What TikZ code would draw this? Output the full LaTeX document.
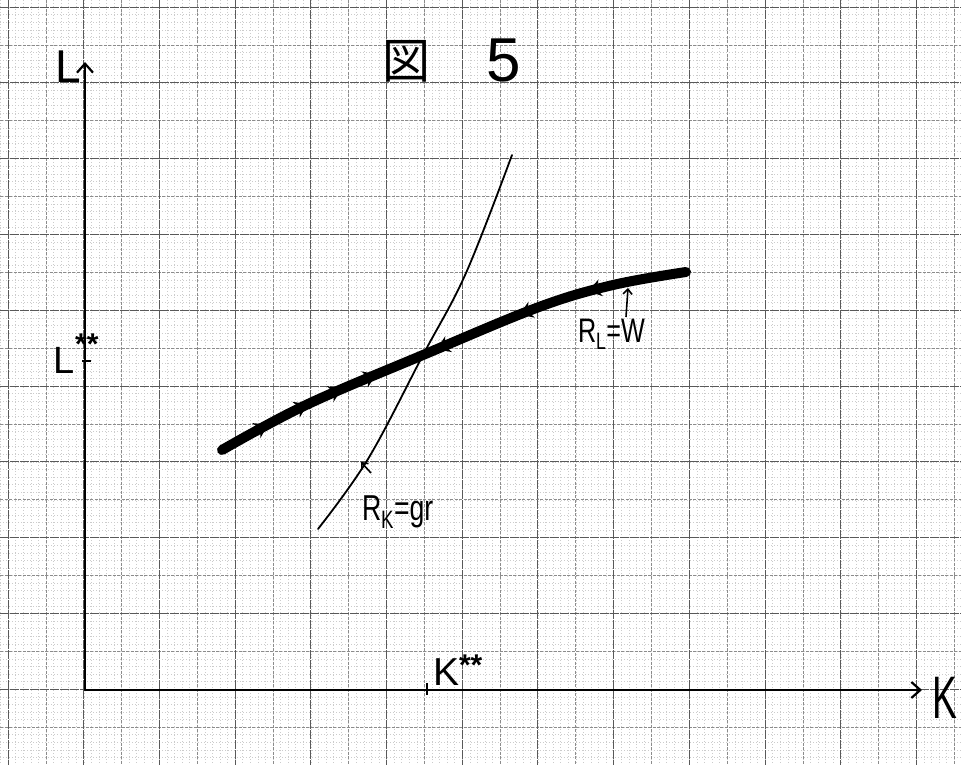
\documentclass[tikz,border=0pt]{standalone}
\usepackage{fontspec}
\setmainfont{Liberation Sans}
\newfontfamily\cjk{Noto Sans CJK JP}
\usetikzlibrary{arrows.meta,decorations.markings}
\tikzset{
  minorline/.style={black!20,line width=0.4pt,dash pattern=on 1pt off 2pt},
  halfline/.style={black!45,line width=0.6pt,dash pattern=on 3pt off 1.5pt},
  majorline/.style={black!65,line width=0.9pt,dash pattern=on 9pt off 1pt},
  axisline/.style={line width=2.6pt,line cap=round,-{Straight Barb[length=9pt,width=16pt,line width=2.2pt]}},
  tickline/.style={line width=1.6pt},
  lbl/.style={inner sep=0pt,outer sep=0pt,text=black},
  stars/.style={inner sep=0pt,outer sep=0pt,text=black,font=\bfseries\fontsize{30}{32}\selectfont},
  smallarrow/.style={line width=1.6pt,-{Straight Barb[length=5pt,width=9pt,line width=1.6pt]}},
  fwdarrow/.style={decoration={markings,
      mark=at position 0.105 with {\arrow{Stealth[length=13pt,width=17pt]}},
      mark=at position 0.195 with {\arrow{Stealth[length=13pt,width=17pt]}},
      mark=at position 0.27 with {\arrow{Stealth[length=13pt,width=17pt]}},
      mark=at position 0.345 with {\arrow{Stealth[length=13pt,width=17pt]}},
      mark=at position 0.475 with {\arrowreversed{Stealth[length=13pt,width=17pt]}},
      mark=at position 0.655 with {\arrowreversed{Stealth[length=13pt,width=17pt]}},
      mark=at position 0.80 with {\arrowreversed{Stealth[length=13pt,width=17pt]}}},
    postaction={decorate}},
  rlcurve/.style={line width=10pt,line cap=round,fwdarrow},
  rkcurve/.style={line width=1.8pt,line cap=round}
}
\begin{document}
\begin{tikzpicture}[x=1pt,y=-1pt]
\useasboundingbox (0,0) rectangle (961,765);
\fill[white] (0,0) rectangle (961,765);
% graph paper
\begin{scope}
\clip (0,0) rectangle (961,765);
\foreach \i in {-2,...,127} {
  \draw[minorline] ({8+\i*7.57},0) -- ({8+\i*7.57},765);
}
\foreach \i in {-1,...,102} {
  \draw[minorline] (0,{7+\i*7.58}) -- (961,{7+\i*7.58});
}
\foreach \i in {-1,...,12} {
  \draw[halfline] ({8+37.85+\i*75.7},0) -- ({8+37.85+\i*75.7},765);
}
\foreach \i in {-1,...,10} {
  \draw[halfline] (0,{7+37.9+\i*75.8}) -- (961,{7+37.9+\i*75.8});
}
\foreach \i in {0,...,12} {
  \draw[majorline] ({8+\i*75.7},0) -- ({8+\i*75.7},765);
}
\foreach \i in {0,...,10} {
  \draw[majorline] (0,{7+\i*75.8}) -- (961,{7+\i*75.8});
}
\end{scope}

% title
\node[lbl,font=\cjk\fontsize{48}{50}\selectfont] (tz) at (406,61) {図};
\node[lbl,font=\fontsize{62}{64}\selectfont,anchor=base] (tn) at (504,82) {5};

% axes
\coordinate (O) at (85,690);
\coordinate (Ltop) at (85,62);
\coordinate (Kend) at (922,690);
\draw[axisline] (O) -- (Ltop);
\draw[axisline] (O) -- (Kend);

\node[lbl,font=\fontsize{46}{50}\selectfont,anchor=base] (Llab) at (68,83) {L};
\node[lbl,font=\fontsize{60}{64}\selectfont,anchor=base,xscale=0.62] (Klab) at (945,718) {K};

% ticks
\coordinate (kt1) at (427,683);
\coordinate (kt2) at (427,695);
\draw[tickline] (kt1) -- (kt2);
\coordinate (lt1) at (82,361);
\coordinate (lt2) at (91,361);
\draw[tickline] (lt1) -- (lt2);

\node[lbl,font=\fontsize{39}{42}\selectfont,anchor=base west] (Kk) at (433,685) {K};
\node[stars,anchor=north west] (Kst) at ([yshift=3pt]Kk.north east) {**};
\node[lbl,font=\fontsize{38}{42}\selectfont,anchor=base west] (Ll) at (53,373) {L};
\node[stars,anchor=south west] (Lst) at ([xshift=1pt,yshift=-8pt]Ll.north east) {**};

% curves
\draw[rkcurve] plot[smooth,tension=0.6] coordinates {(318,529) (368,459) (423,355) (466,273) (512,155)};
\draw[rlcurve] plot[smooth,tension=0.6] coordinates {(222,450) (306,405) (423,355) (539,307) (613,285) (686,272)};
\coordinate (E) at (423,355);

% labels
\node[lbl,font=\fontsize{36}{40}\selectfont,anchor=base west,xscale=0.74] (rk) at (362,520) {R\textsubscript{K}=gr};
\coordinate (rkfrom) at (371,473);
\coordinate (rkto) at (361,462);
\draw[smallarrow] (rkfrom) -- (rkto);

\node[lbl,font=\fontsize{34}{38}\selectfont,anchor=base west,xscale=0.74] (rl) at (578,342) {R\textsubscript{L}=W};
\coordinate (rlfrom) at (626,317);
\coordinate (rlto) at (628,288);
\draw[smallarrow] (rlfrom) -- (rlto);
\end{tikzpicture}
\end{document}
